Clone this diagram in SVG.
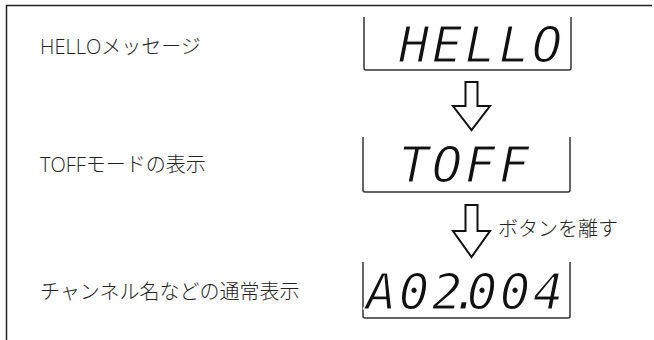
<svg xmlns="http://www.w3.org/2000/svg" width="654" height="340" viewBox="0 0 654 340">
<style>
.frame{fill:none;stroke:#222;stroke-width:1.5}
.box{fill:none;stroke:#333;stroke-width:1.5}
.lbl{font-family:"Open Sans","Noto Sans CJK JP",sans-serif;font-size:20px;font-weight:300;fill:#222}
.seg{font-family:"DejaVu Sans Mono",monospace;font-style:italic;font-size:50px;fill:#111;stroke:#fff;stroke-width:1.2}
.arr{fill:#fff;stroke:#111;stroke-width:2;stroke-linejoin:miter}
</style>
<rect width="654" height="340" fill="#fff"/>
<path class="frame" d="M6.5,340 V5.5 H652"/>
<g id="hello">
<text class="lbl" x="40" y="54">HELLOメッセージ</text>
<path class="box" d="M364,17 V68 Q364,70 366,70 H569 Q571,70 571,68 V17"/>
<text class="seg" x="399 432 465 499 532" y="62">HELLO</text>
</g>
<g id="toff">
<text class="lbl" x="40" y="172">TOFFモードの表示</text>
<path class="box" d="M363,137 V190 Q363,192 365,192 H568 Q570,192 570,190 V137"/>
<text class="seg" x="399 432 465 499" y="182">TOFF</text>
</g>
<g id="normal">
<text class="lbl" x="40" y="299">チャンネル名などの通常表示</text>
<path class="box" d="M363,262 V316 Q363,318 365,318 H568 Q570,318 570,316 V262"/>
<text class="seg" x="366 399 432 451 467 500 533" y="309">A02.004</text>
</g>
<g id="connectors">
<path class="arr" d="M465.5,82 H477.5 V106 H490 L471.5,130 L453,106 H465.5 Z"/>
<path class="arr" d="M465.5,205 H477.5 V231 H490 L471.5,257 L453,231 H465.5 Z"/>
<text class="lbl" x="498" y="236">ボタンを離す</text>
</g>
</svg>
